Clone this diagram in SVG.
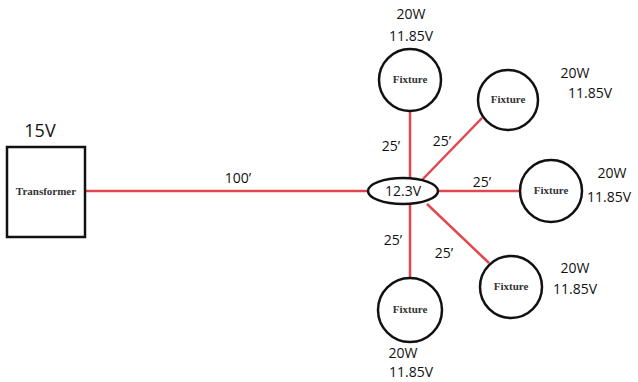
<svg xmlns="http://www.w3.org/2000/svg" width="638" height="382" viewBox="0 0 638 382">
<style>
.wire{stroke:#e2474f;stroke-width:2.5;fill:none}
.box{fill:#fff;stroke:#111;stroke-width:2.5}
.lbl{font-family:"Open Sans","Liberation Sans",sans-serif;font-size:14px;fill:#111;text-anchor:middle}
.big{font-family:"Open Sans","Liberation Sans",sans-serif;font-size:18px;fill:#111;text-anchor:middle}
.nm{font-family:"Liberation Serif",serif;font-size:11px;font-weight:bold;fill:#333;text-anchor:middle}
</style>
<rect width="638" height="382" fill="#fff"/>
<g id="connectors">
<line class="wire" x1="85" y1="191" x2="368" y2="191"/>
<line class="wire" x1="410" y1="111" x2="410" y2="178"/>
<line class="wire" x1="422" y1="180" x2="482" y2="118"/>
<line class="wire" x1="439" y1="191" x2="520" y2="191"/>
<line class="wire" x1="427" y1="204" x2="489" y2="263"/>
<line class="wire" x1="410" y1="204" x2="410" y2="277"/>
<text class="lbl" x="238" y="183">100’</text>
<text class="lbl" x="391" y="151">25’</text>
<text class="lbl" x="442" y="146">25’</text>
<text class="lbl" x="482" y="187">25’</text>
<text class="lbl" x="393" y="245">25’</text>
<text class="lbl" x="444" y="258">25’</text>
</g>
<g id="transformer">
<rect class="box" x="7" y="147" width="78" height="90"/>
<text class="nm" x="46" y="195">Transformer</text>
<text class="big" x="40" y="137">15V</text>
</g>
<g id="junction">
<ellipse class="box" cx="403" cy="191" rx="35" ry="13"/>
<text class="lbl" x="403" y="196">12.3V</text>
</g>
<g id="fixture-top">
<circle class="box" cx="410" cy="80" r="31"/>
<text class="nm" x="410" y="83">Fixture</text>
<text class="lbl" x="411" y="19">20W</text>
<text class="lbl" x="411" y="41">11.85V</text>
</g>
<g id="fixture-upper-right">
<circle class="box" cx="508" cy="100" r="30"/>
<text class="nm" x="508" y="103">Fixture</text>
<text class="lbl" x="575" y="78">20W</text>
<text class="lbl" x="590" y="98">11.85V</text>
</g>
<g id="fixture-right">
<circle class="box" cx="551" cy="191" r="31"/>
<text class="nm" x="551" y="194">Fixture</text>
<text class="lbl" x="612" y="178">20W</text>
<text class="lbl" x="609" y="202">11.85V</text>
</g>
<g id="fixture-lower-right">
<circle class="box" cx="511" cy="287" r="31"/>
<text class="nm" x="511" y="290">Fixture</text>
<text class="lbl" x="575" y="273">20W</text>
<text class="lbl" x="575" y="294">11.85V</text>
</g>
<g id="fixture-bottom">
<circle class="box" cx="410" cy="310" r="32"/>
<text class="nm" x="410" y="313">Fixture</text>
<text class="lbl" x="403" y="358">20W</text>
<text class="lbl" x="411" y="377">11.85V</text>
</g>
</svg>
